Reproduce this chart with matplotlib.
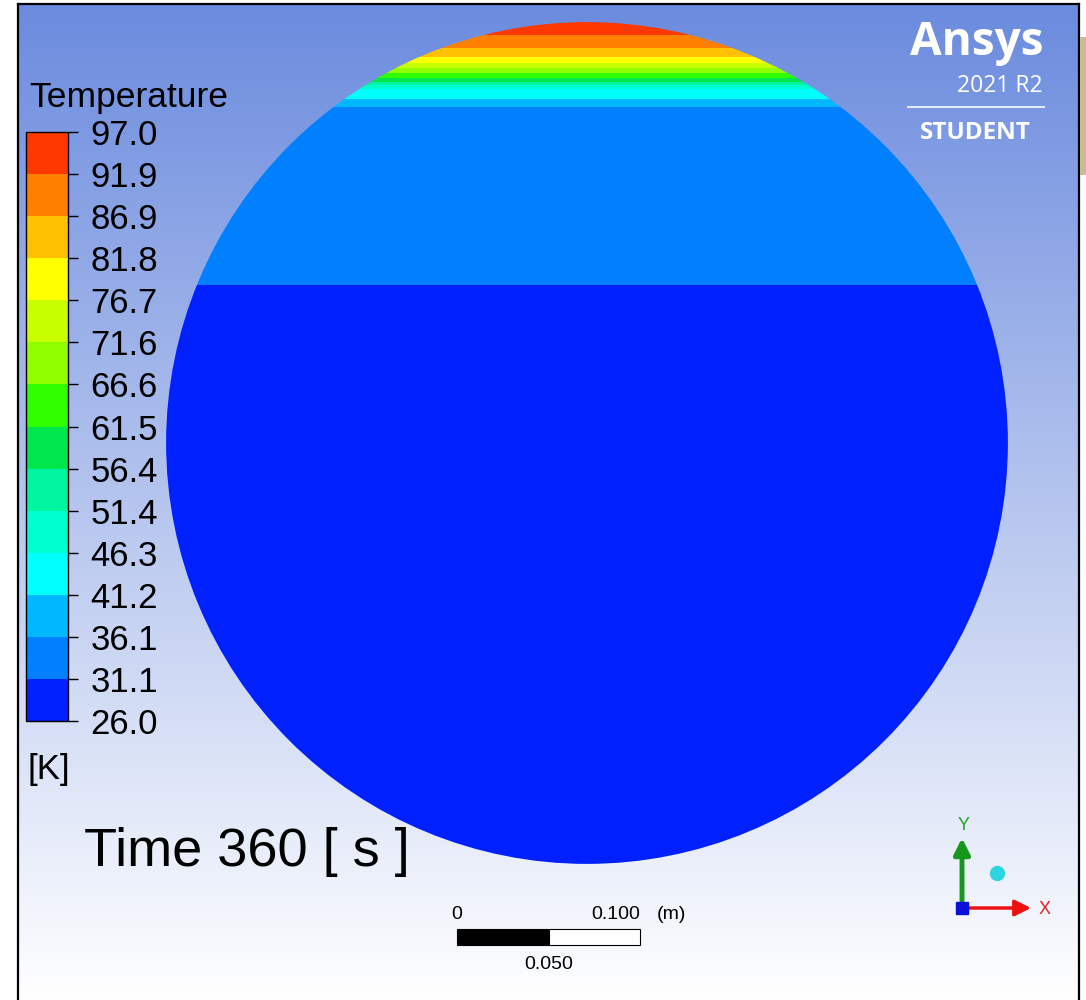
import numpy as np
import matplotlib
matplotlib.use("Agg")
import matplotlib.pyplot as plt
from matplotlib.colors import ListedColormap, BoundaryNorm
from matplotlib.patches import Circle, Rectangle
from matplotlib.cm import ScalarMappable

plt.rcParams['font.family'] = ['Liberation Sans', 'DejaVu Sans']

# --- data ---
levels = [26.0, 31.1, 36.1, 41.2, 46.3, 51.4, 56.4, 61.5, 66.6, 71.6, 76.7, 81.8, 86.9, 91.9, 97.0]
band_colors = ['#0020FF', '#0080FF', '#00B8FF', '#00FFFF', '#00FFD0', '#00F5A0', '#00E64D',
               '#30FF00', '#90FF00', '#C8FF00', '#FFFF00', '#FFC000', '#FF8000', '#FF3800']

# vertical temperature profile (height above the pipe centre, m -> K)
profile_height = [-0.2301, 0.0863, 0.1836, 0.1880, 0.1934, 0.1956, 0.1973, 0.1995,
                  0.2022, 0.2049, 0.2077, 0.2109, 0.2158, 0.2230, 0.2305]
profile_temp = [27.0, 31.1, 36.1, 41.2, 46.3, 51.4, 56.4, 61.5,
                66.6, 71.6, 76.7, 81.8, 86.9, 91.9, 96.5]

radius = 0.230          # m
time_s = 360
scale_ticks = [0.0, 0.050, 0.100]   # m

W, H = 1086, 1000
PX_PER_M = 1830.0
cx, cy = 587, 443       # circle centre in pixels

fig = plt.figure(figsize=(W / 100, H / 100), dpi=100, facecolor='white')

# frame with gradient background
fl, fr, ft = 18, 1079, 4
ax = fig.add_axes([fl / W, 0, (fr - fl) / W, (H - ft) / H])
xlim = ((fl - cx) / PX_PER_M, (fr - cx) / PX_PER_M)
ylim = ((cy - H) / PX_PER_M, (cy - ft) / PX_PER_M)
ax.set_xlim(*xlim)
ax.set_ylim(*ylim)
ax.set_aspect('auto')
top_rgb = np.array([107, 139, 222]) / 255
bot_rgb = np.array([255, 255, 255]) / 255
t = np.linspace(0, 1, 400)[:, None]
grad = top_rgb[None, :] * (1 - t) + bot_rgb[None, :] * t
ax.imshow(grad[:, None, :], extent=(xlim[0], xlim[1], ylim[0], ylim[1]),
          aspect='auto', origin='upper', zorder=0)
ax.set_xticks([])
ax.set_yticks([])
for s in ['left', 'top', 'right']:
    ax.spines[s].set_linewidth(1.6)
    ax.spines[s].set_color('black')
ax.spines['bottom'].set_visible(False)

# temperature field in the pipe cross-section
cmap = ListedColormap(band_colors)
norm = BoundaryNorm(levels, cmap.N)
ys = np.linspace(radius, -radius, 1600)
T = np.interp(ys, profile_height, profile_temp)
field = np.repeat(T[:, None], 50, axis=1)
im = ax.imshow(field, extent=(-radius, radius, -radius, radius), cmap=cmap, norm=norm,
               interpolation='nearest', aspect='auto', origin='upper', zorder=2)
clip = Circle((0, 0), radius, transform=ax.transData)
im.set_clip_path(clip)

# scale bar (m)
sb_x0 = (457 - cx) / PX_PER_M
sb_y0 = (cy - 945) / PX_PER_M
sb_h = 16 / PX_PER_M
ax.add_patch(Rectangle((sb_x0, sb_y0), scale_ticks[1], sb_h, facecolor='black',
                       edgecolor='black', lw=0.8, zorder=3))
ax.add_patch(Rectangle((sb_x0 + scale_ticks[1], sb_y0), scale_ticks[2] - scale_ticks[1], sb_h,
                       facecolor='white', edgecolor='black', lw=0.8, zorder=3))
ax.text(sb_x0 + scale_ticks[0], sb_y0 + sb_h + 0.0035, '0', fontsize=14, ha='center', va='bottom', zorder=4)
ax.text(sb_x0 + scale_ticks[2], sb_y0 + sb_h + 0.0035, '0.100', fontsize=14, ha='right', va='bottom', zorder=4)
ax.text(sb_x0 + scale_ticks[2] + 0.009, sb_y0 + sb_h + 0.0035, '(m)', fontsize=14, ha='left', va='bottom', zorder=4)
ax.text(sb_x0 + scale_ticks[1], sb_y0 - 0.006, '0.050', fontsize=14, ha='center', va='top', zorder=4)

# colour legend
cax = fig.add_axes([26 / W, 1 - 721 / H, 42 / W, (721 - 132) / H])
cb = fig.colorbar(ScalarMappable(norm=norm, cmap=cmap), cax=cax, ticks=levels)
cb.ax.set_yticklabels([f'{v:.1f}' for v in levels])
cb.ax.tick_params(labelsize=25, length=7, width=1, pad=9, direction='out')
cb.outline.set_linewidth(1.0)
fig.text(29 / W, 1 - 97 / H, 'Temperature', fontsize=25.5, ha='left', va='center')
fig.text(27 / W, 1 - 770 / H, '[K]', fontsize=25, ha='left', va='center')

fig.text(84 / W, 1 - 852 / H, f'Time {time_s} [ s ]', fontsize=39, ha='left', va='center')

# logo
logo_font = ['Open Sans', 'DejaVu Sans']
fig.text(1043 / W, 1 - 42 / H, 'Ansys', fontsize=33, fontweight='bold', color='white',
         ha='right', va='center', family=logo_font)
fig.text(1043 / W, 1 - 86 / H, '2021 R2', fontsize=16.5, color='white',
         ha='right', va='center', family=logo_font)
fig.add_artist(plt.Line2D([908 / W, 1044 / W], [1 - 107 / H, 1 - 107 / H],
                          color='white', lw=1.3, alpha=0.9))
fig.text(975 / W, 1 - 133 / H, 'STUDENT', fontsize=17.5, fontweight='bold', color='white',
         ha='center', va='center', family=logo_font)

# tan strip on the right edge
fig.add_artist(Rectangle((1080 / W, 1 - 175 / H), 6 / W, 138 / H,
                         transform=fig.transFigure, facecolor='#C9BE8E', edgecolor='none'))

# axis triad (pixel overlay)
ov = fig.add_axes([0, 0, 1, 1], facecolor='none')
ov.set_xlim(0, W)
ov.set_ylim(H, 0)
ov.axis('off')
ox, oy = 962, 908
ov.annotate('', xy=(ox, 838), xytext=(ox, oy),
            arrowprops=dict(arrowstyle='-|>', lw=3.5, color='#16961A', mutation_scale=24,
                            shrinkA=0, shrinkB=0))
ov.annotate('', xy=(1031, oy), xytext=(ox, oy),
            arrowprops=dict(arrowstyle='-|>', lw=2.5, color='#EE1111', mutation_scale=24,
                            shrinkA=0, shrinkB=0))
ov.plot([ox], [oy], marker='s', ms=9, color='#0A10D8', zorder=5)
ov.plot([997], [873], marker='o', ms=10, color='#2CD6E0', zorder=5)
ov.text(964, 826, 'Y', fontsize=13, color='#2AA02A', ha='center', va='center')
ov.text(1045, 909, 'X', fontsize=13, color='#E02020', ha='center', va='center')

fig.savefig('out.png', dpi=100, facecolor='white')
